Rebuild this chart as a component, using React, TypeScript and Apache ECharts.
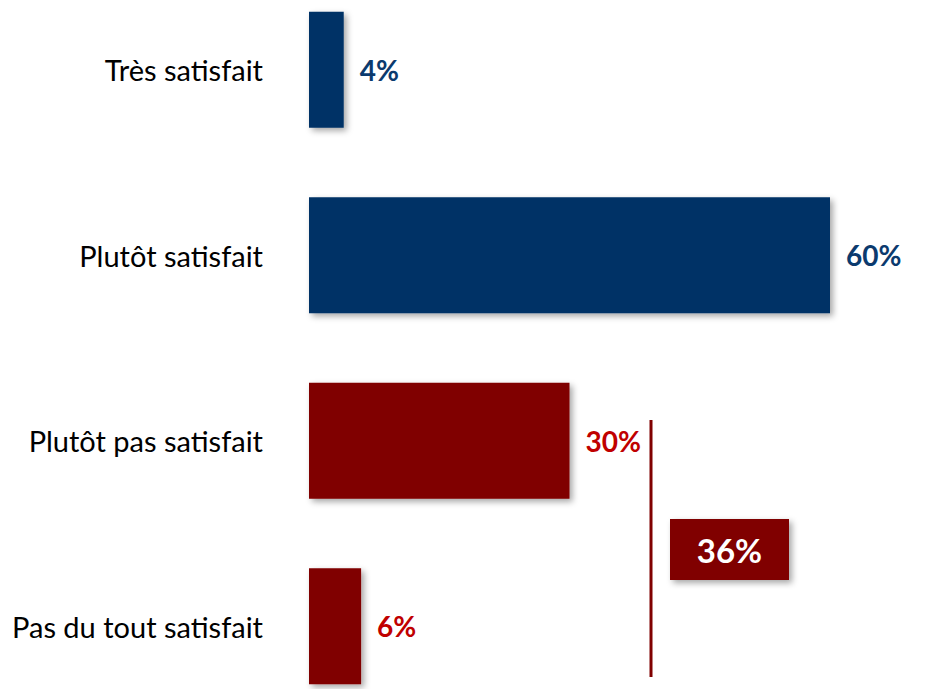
import React, { useEffect, useRef } from "react";
import * as echarts from "echarts";

const categories = ["Très satisfait", "Plutôt satisfait", "Plutôt pas satisfait", "Pas du tout satisfait"];
const values = [4, 60, 30, 6];
const groups = ["pos", "pos", "neg", "neg"];
const BLUE = "#003366";
const RED = "#800000";
const BLUE_TXT = "#0b3a6e";
const RED_TXT = "#c00000";
const OFFSET = 23; // chart canvas starts above the visible page

export default function App() {
  const ref = useRef<HTMLDivElement>(null);
  useEffect(() => {
    if (!ref.current) return;
    const chart = echarts.init(ref.current, null, { renderer: "svg" });
    const negTotal = values.reduce((s, v, i) => (groups[i] === "neg" ? s + v : s), 0);
    chart.setOption({
      animation: false,
      grid: { left: 309, width: 521, top: 0, bottom: 0, containLabel: false },
      xAxis: { type: "value", min: 0, max: 60, show: false },
      yAxis: {
        type: "category",
        inverse: true,
        data: categories,
        axisLine: { show: false },
        axisTick: { show: false },
        axisLabel: { margin: 46, fontSize: 29, fontFamily: "Lato", color: "#000" },
      },
      series: [
        {
          type: "bar",
          barWidth: 116,
          data: values.map((v, i) => {
            const neg = groups[i] === "neg";
            return {
              value: v,
              itemStyle: {
                color: neg ? RED : BLUE,
                shadowBlur: 6,
                shadowOffsetX: 3,
                shadowOffsetY: 3,
                shadowColor: "rgba(0,0,0,0.35)",
              },
              label: {
                show: true,
                position: "right",
                distance: 16,
                formatter: "{c}%",
                fontSize: 28,
                fontWeight: "bold",
                fontFamily: "Lato",
                color: neg ? RED_TXT : BLUE_TXT,
              },
            };
          }),
        },
      ],
      graphic: [
        {
          type: "line",
          shape: { x1: 651, y1: 420 + OFFSET, x2: 651, y2: 677 + OFFSET },
          style: { stroke: RED, lineWidth: 3 },
        },
        {
          type: "rect",
          shape: { x: 670, y: 519 + OFFSET, width: 119, height: 61 },
          style: {
            fill: RED,
            shadowBlur: 6,
            shadowOffsetX: 3,
            shadowOffsetY: 3,
            shadowColor: "rgba(0,0,0,0.35)",
          },
        },
        {
          type: "text",
          x: 729.5,
          y: 550 + OFFSET,
          style: {
            text: negTotal + "%",
            fill: "#fff",
            fontSize: 33,
            fontWeight: "bold",
            fontFamily: "Lato",
            align: "center",
            verticalAlign: "middle",
          },
        },
      ],
    });
    return () => chart.dispose();
  }, []);
  return (
    <div style={{ position: "absolute", left: 0, top: 0, width: 944, height: 689, overflow: "hidden" }}>
      <div ref={ref} style={{ position: "absolute", left: 0, top: -OFFSET, width: 944, height: 742 }} />
    </div>
  );
}
